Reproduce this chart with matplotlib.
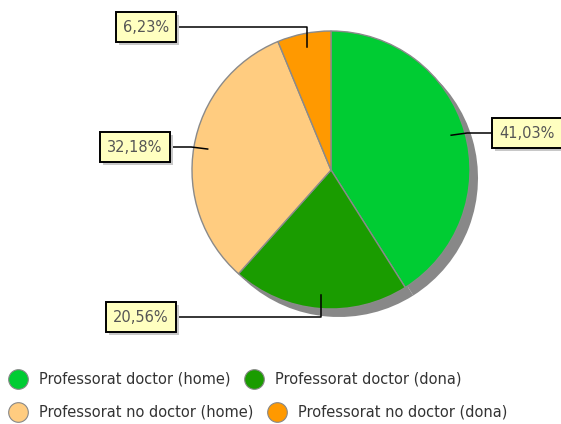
import numpy as np
import matplotlib
matplotlib.use("Agg")
import matplotlib.pyplot as plt
from matplotlib.patches import Rectangle
from matplotlib.transforms import IdentityTransform

# ---- data ----
categories = ["Professorat doctor (home)", "Professorat doctor (dona)",
              "Professorat no doctor (home)", "Professorat no doctor (dona)"]
values = [41.03, 20.56, 32.18, 6.23]
value_labels = ["41,03%", "20,56%", "32,18%", "6,23%"]
colors = ["#00CC33", "#1A9C00", "#FFCC80", "#FF9900"]

# ---- layout (pixels) ----
W, H = 561, 424
cx, cy, R = 331, 170, 139
label_centers = [(527, 133), (141, 317), (135, 147), (146, 27)]

fig = plt.figure(figsize=(W / 100, H / 100), dpi=100)
ax = fig.add_axes([0, 0, 1, 1])

# shadow pie
ax.pie(values, center=(cx + 8, cy + 8), radius=R, startangle=270, counterclock=True,
       colors=["#888888"] * len(values), wedgeprops=dict(linewidth=0))
# main pie
wedges, _ = ax.pie(values, center=(cx, cy), radius=R, startangle=270, counterclock=True,
                   colors=colors, wedgeprops=dict(edgecolor="#8a8a8a", linewidth=1.0))
ax.set_xlim(0, W)
ax.set_ylim(H, 0)
ax.set_aspect("auto")
ax.axis("off")

# labels with leader lines
fs = 10.5
label_texts = []
for w, lab, (bx, by) in zip(wedges, value_labels, label_centers):
    mid = np.deg2rad((w.theta1 + w.theta2) / 2)
    dx, dy = np.cos(mid), np.sin(mid)
    ax_, ay_ = cx + 0.9 * R * dx, cy + 0.9 * R * dy
    if abs(dy) > abs(dx):
        ex, ey = ax_, by
    else:
        ex, ey = cx + 1.02 * R * dx, by
    ax.plot([ax_, ex, bx], [ay_, ey, by], color="black", lw=1.1, zorder=5)
    t = ax.text(bx, by, lab, ha="center", va="center", fontsize=fs, color="#555555", zorder=7,
                bbox=dict(boxstyle="square,pad=0.5", facecolor="#FFFFC0", edgecolor="black",
                          linewidth=1.4))
    label_texts.append(t)

fig.canvas.draw()
renderer = fig.canvas.get_renderer()

# box shadows (drawn beneath the boxes)
for t in label_texts:
    bb = t.get_bbox_patch().get_window_extent(renderer)
    rect = Rectangle((bb.x0 + 3, bb.y0 - 3), bb.width, bb.height,
                     facecolor="#c8c8c8", edgecolor="none", zorder=6, clip_on=False)
    rect.set_transform(IdentityTransform())
    ax.add_patch(rect)

# legend (flowing layout)
rows = [(0, 1), (2, 3)]
row_y = [379, 412]
for r, idxs in enumerate(rows):
    x = 18
    for i in idxs:
        ax.scatter([x], [row_y[r]], s=200, color=colors[i], edgecolor="#888888",
                   linewidth=0.8, zorder=5)
        t = ax.text(x + 21, row_y[r], categories[i], ha="left", va="center", fontsize=10.5,
                    color="#333333")
        bb = t.get_window_extent(renderer)
        x = bb.x1 + 24

fig.savefig("out.png", dpi=100)
